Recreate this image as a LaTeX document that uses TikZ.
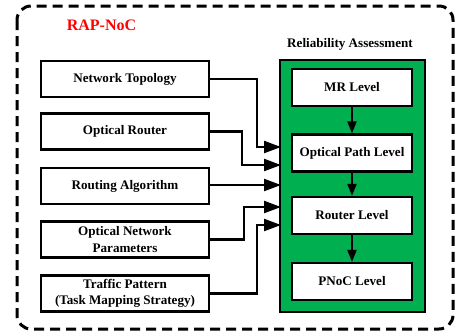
\documentclass[tikz,border=0pt]{standalone}
\usepackage{fontspec}
\setmainfont{Liberation Serif}
\usetikzlibrary{arrows.meta}
\definecolor{rgreen}{HTML}{00B050}
\definecolor{rred}{HTML}{FF0000}
\begin{document}
\begin{tikzpicture}[x=1pt,y=-1pt,
  inbox/.style={draw=black,line width=2.2pt,fill=white,minimum width=168pt,minimum height=36pt,
    font=\fontsize{13.1}{16.5}\selectfont\bfseries,align=center,inner sep=0pt},
  lvbox/.style={draw=black,line width=2.2pt,fill=white,minimum width=120pt,minimum height=37pt,
    font=\fontsize{13.1}{16.5}\selectfont\bfseries,align=center,inner sep=0pt},
  conn/.style={line width=2.2pt,-{Triangle[length=17pt,width=12pt]},line join=miter},
  varr/.style={line width=2.2pt,-{Triangle[length=12pt,width=9pt]}}
]
\useasboundingbox (0,0) rectangle (455,335);
% outer dashed frame
\draw[line width=3pt,dash pattern=on 10pt off 6pt,rounded corners=14pt] (17,6) rectangle (453,329);
\node[font=\fontsize{16}{18}\selectfont\bfseries,text=rred] (title) at (101.5,25) {RAP-NoC};
% green container
\node[draw=black,line width=2.2pt,fill=rgreen,minimum width=145pt,minimum height=252pt,inner sep=0pt] (green) at (352.5,186) {};
\node[font=\fontsize{13.1}{15}\selectfont\bfseries] (ra) at (350,44) {Reliability Assessment};
% level boxes
\node[lvbox] (mr) at (352,87.5) {MR Level};
\node[lvbox] (op) at (352,153) {Optical Path Level};
\node[lvbox] (rl) at (352,215.5) {Router Level};
\node[lvbox] (pn) at (352,281.5) {PNoC Level};
\draw[varr] (mr) -- (op);
\draw[varr] (op) -- (rl);
\draw[varr] (rl) -- (pn);
% input boxes
\node[inbox] (nt) at (125,79) {Network Topology};
\node[inbox] (or) at (125,131.5) {Optical Router};
\node[inbox] (ra2) at (125,186) {Routing Algorithm};
\node[inbox] (onp) at (125,239.5) {Optical Network\\Parameters};
\node[inbox] (tp) at (125,293.5) {Traffic Pattern\\(Task Mapping Strategy)};
% connectors
\coordinate (g1) at (281,147);
\coordinate (g2) at (281,165);
\coordinate (g3) at (281,185);
\coordinate (g4) at (281,207);
\coordinate (g5) at (281,225);
\draw[conn] (nt.east) -- (257,79) -- (257,147) -- (g1);
\draw[conn] (or.east) -- (242,131.5) -- (242,165) -- (g2);
\draw[conn] (ra2.east |- g3) -- (g3);
\draw[conn] (onp.east) -- (244,239.5) -- (244,207) -- (g4);
\draw[conn] (tp.east) -- (257,293.5) -- (257,225) -- (g5);
\end{tikzpicture}
\end{document}
